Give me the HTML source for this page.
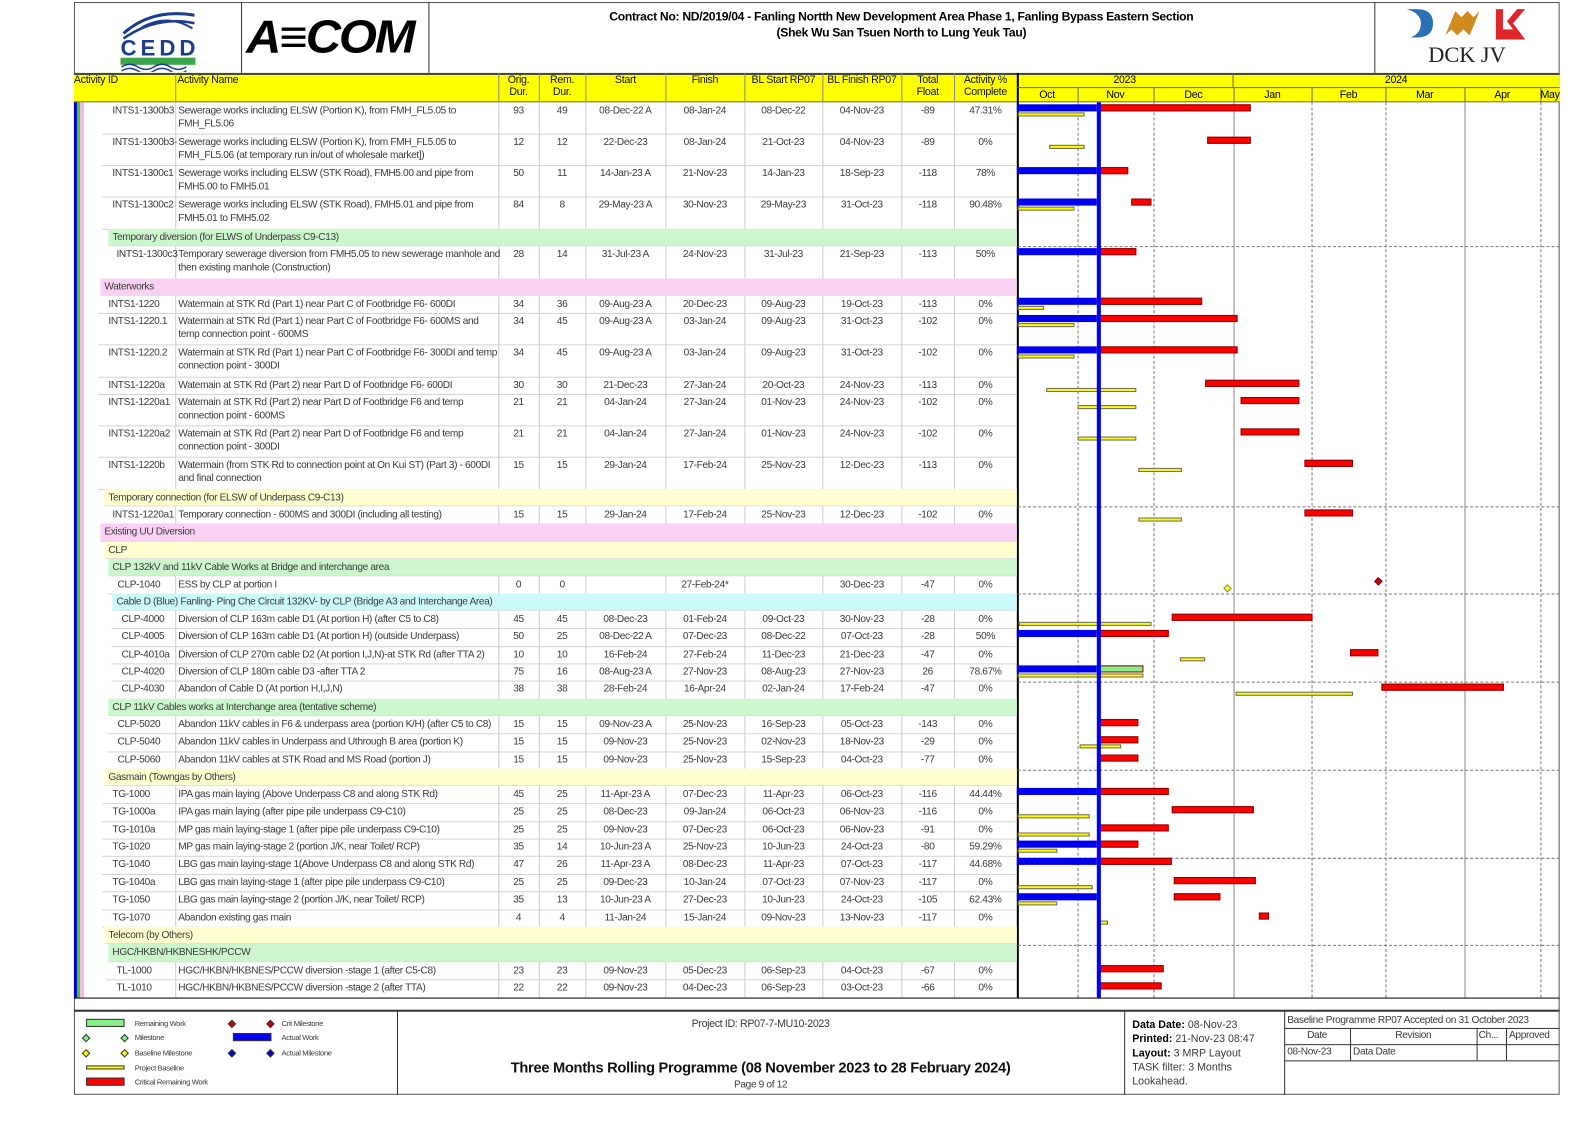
<!DOCTYPE html>
<html><head><meta charset="utf-8">
<style>
*{margin:0;padding:0;box-sizing:border-box}
html,body{width:1588px;height:1123px;overflow:hidden;background:#fff}
#w{position:absolute;left:0;top:0;width:1568px;height:1109px;transform:scale(1.01276);transform-origin:0 0;font-family:"Liberation Sans",Arial,sans-serif;color:#333}
.a{position:absolute}
.t{position:absolute;font-size:10px;line-height:12.5px;white-space:nowrap;letter-spacing:-0.35px;color:#3a3a3a}
.hd{position:absolute;font-size:10.5px;line-height:12px;font-weight:bold;color:#000;text-align:center;letter-spacing:-0.3px}
</style></head><body><div id="w"></div>
<script>
var W=document.getElementById('w');var H='';
function box(x,y,w,h,st){H+='<div class="a" style="left:'+x+'px;top:'+y+'px;width:'+w+'px;height:'+h+'px;'+(st||'')+'"></div>';}
function txt(x,y,s,st){H+='<div class="t" style="left:'+x+'px;top:'+y+'px;'+(st||'')+'">'+s+'</div>';}
var M={Jan:0,Feb:1,Mar:2,Apr:3,May:4,Jun:5,Jul:6,Aug:7,Sep:8,Oct:9,Nov:10,Dec:11};
function dx(s){var p=s.split('-');var d=Date.UTC(2000+ +p[2].slice(0,2),M[p[1]],+p[0]);var n=(d-Date.UTC(2023,10,1))/864e5;return 1063.7+n*2.52;}
var GL=1004,GR=1539.5,DD=1083;
box(73,2,1467,1079,'border:1px solid #555');
box(238,2,1,70,'background:#333');box(423,2,1,70,'background:#333');box(1357,2,1,70,'background:#333');
H+='<svg class="a" style="left:110px;top:3px" width="90" height="68"><path d="M12 30 Q40 5 82 12" stroke="#1d3c8c" stroke-width="3" fill="none"/><path d="M12 35 Q45 12 82 20" stroke="#1d3c8c" stroke-width="2.5" fill="none"/><path d="M30 24 Q55 10 80 25" stroke="#1d3c8c" stroke-width="2" fill="none"/><text x="9" y="52" font-family="Liberation Sans" font-size="22" fill="#1d3c8c" font-weight="bold" textLength="74">CEDD</text><rect x="9" y="54" width="74" height="7" fill="#3aa64a"/><path d="M10 63 q8 -5 16 0 t16 0 t16 0 t16 0" stroke="#1d3c8c" stroke-width="1.5" fill="none"/><path d="M10 67 q8 -5 16 0 t16 0 t16 0 t16 0" stroke="#1d3c8c" stroke-width="1.5" fill="none"/></svg>';
H+='<div class="a" style="left:243px;top:8px;width:180px;font:italic 900 46px/56px \'Liberation Sans\',sans-serif;color:#000;letter-spacing:-2px;transform:scaleX(1.05);transform-origin:0 0">A&#8801;COM</div>';
H+='<div class="hd" style="left:430px;top:8px;width:920px;font-size:12px;line-height:16px">Contract No: ND/2019/04 - Fanling Nortth New Development Area Phase 1, Fanling Bypass Eastern Section<br>(Shek Wu San Tsuen North to Lung Yeuk Tau)</div>';
H+='<svg class="a" style="left:1385px;top:5px" width="130" height="34"><path d="M4 4 h10 q16 0 16 14 q0 14 -16 14 h-6 q10 -4 10 -14 q0 -10 -14 -14z" fill="#2f6fb3"/><path d="M42 30 l10 -24 l6 6 l6 -6 l6 6 l6 -6 l-10 24 l-6 -6 l-6 6 l-6 -6z" fill="#d08a1e"/><path d="M92 4 h7 v20 h10 l-6 -8 l10 -12 h8 l-12 14 l12 16 h-29z" fill="#e0262b"/></svg>';
H+='<div class="a" style="left:1357px;top:41px;width:183px;text-align:center;font:22px/26px \'Liberation Serif\',serif;color:#222">DCK JV</div>';
box(73,72,1467,29,'background:#ffff00;border-top:2px solid #444;border-bottom:1px solid #666');
var cols=[73,173,492,532,578,657,735,812,890,942,1004];
for(var i=1;i<cols.length-1;i++)box(cols[i],72,1,29,'background:#888');
box(1004,72,1,913,'background:#000;width:2px');
var hdr=[['Activity ID',73,100,'left'],['Activity Name',175,300,'left'],['Orig.<br>Dur.',492,40],['Rem.<br>Dur.',532,46],['Start',578,79],['Finish',657,78],['BL Start RP07',735,77],['BL Finish RP07',812,78],['Total<br>Float',890,52],['Activity %<br>Complete',942,62]];
hdr.forEach(function(h){H+='<div class="hd" style="left:'+h[1]+'px;top:73px;width:'+h[2]+'px;font-weight:normal;font-size:10.5px;color:#111;'+(h[3]?'text-align:left;':'')+'">'+h[0]+'</div>';});
box(1004,86,536,1,'background:#666');
box(1217,72,1,14,'background:#666');
H+='<div class="hd" style="left:1004px;top:73px;width:213px;font-weight:normal">2023</div><div class="hd" style="left:1217px;top:73px;width:323px;font-weight:normal">2024</div>';
var mb=[1004,1063.7,1139,1217.6,1295,1368,1445.5,1521,1540];var mn=['Oct','Nov','Dec','Jan','Feb','Mar','Apr','May'];
for(var i=0;i<8;i++){if(i>0)box(mb[i],86,1,15,'background:#666');H+='<div class="hd" style="left:'+mb[i]+'px;top:88px;width:'+(mb[i+1]-mb[i])+'px;font-weight:normal;overflow:hidden">'+mn[i]+'</div>';}
[1063.7,1139,1295,1368,1521].forEach(function(x){box(x,101,0,884,'border-left:1px dashed #777');});
[1217.6,1445.5].forEach(function(x){box(x,101,1,884,'background:#888');});
[243,500,586,673,760,847,933].forEach(function(y){box(1005,y,535,0,'border-top:1px dashed #777');});
box(73,101,3,884,'background:#0000c0');box(76,101,3,884,'background:#33cc33');box(79,101,4,884,'background:#f5b8e8');
var R=[
['a',101,31,111,'INTS1-1300b3','Sewerage works including ELSW (Portion K), from FMH_FL5.05 to<br>FMH_FL5.06','93','49','08-Dec-22 A','08-Jan-24','08-Dec-22','04-Nov-23','-89','47.31%',1,0],
['a',132,31,111,'INTS1-1300b3-','Sewerage works including ELSW (Portion K), from FMH_FL5.05 to<br>FMH_FL5.06 (at temporary run in/out of wholesale market])','12','12','22-Dec-23','08-Jan-24','21-Oct-23','04-Nov-23','-89','0%',0,0],
['a',163,31,111,'INTS1-1300c1','Sewerage works including ELSW (STK Road), FMH5.00 and pipe from<br>FMH5.00 to FMH5.01','50','11','14-Jan-23 A','21-Nov-23','14-Jan-23','18-Sep-23','-118','78%',1,0],
['a',194,32,111,'INTS1-1300c2','Sewerage works including ELSW (STK Road), FMH5.01 and pipe from<br>FMH5.01 to FMH5.02','84','8','29-May-23 A','30-Nov-23','29-May-23','31-Oct-23','-118','90.48%',1,'22-Nov-23'],
['g',226,17,111,'Temporary diversion (for ELWS of Underpass C9-C13)','#ccf7cc'],
['a',243,32,115,'INTS1-1300c3','Temporary sewerage diversion from FMH5.05 to new sewerage manhole and<br>then existing manhole (Construction)','28','14','31-Jul-23 A','24-Nov-23','31-Jul-23','21-Sep-23','-113','50%',1,0],
['g',275,17,103,'Waterworks','#fbd0f5'],
['a',292,17,107,'INTS1-1220','Watermain at STK Rd (Part 1) near Part C of Footbridge F6- 600DI','34','36','09-Aug-23 A','20-Dec-23','09-Aug-23','19-Oct-23','-113','0%',1,0],
['a',309,31,107,'INTS1-1220.1','Watermain at STK Rd (Part 1) near Part C of Footbridge F6- 600MS and<br>temp connection point - 600MS','34','45','09-Aug-23 A','03-Jan-24','09-Aug-23','31-Oct-23','-102','0%',1,0],
['a',340,32,107,'INTS1-1220.2','Watermain at STK Rd (Part 1) near Part C of Footbridge F6- 300DI and temp<br>connection point - 300DI','34','45','09-Aug-23 A','03-Jan-24','09-Aug-23','31-Oct-23','-102','0%',1,0],
['a',372,17,107,'INTS1-1220a','Watemain at STK Rd (Part 2) near Part D of Footbridge F6- 600DI','30','30','21-Dec-23','27-Jan-24','20-Oct-23','24-Nov-23','-113','0%',0,0],
['a',389,31,107,'INTS1-1220a1','Watemain at STK Rd (Part 2) near Part D of Footbridge F6 and temp<br>connection point - 600MS','21','21','04-Jan-24','27-Jan-24','01-Nov-23','24-Nov-23','-102','0%',0,0],
['a',420,31,107,'INTS1-1220a2','Watemain at STK Rd (Part 2) near Part D of Footbridge F6 and temp<br>connection point - 300DI','21','21','04-Jan-24','27-Jan-24','01-Nov-23','24-Nov-23','-102','0%',0,0],
['a',451,32,107,'INTS1-1220b','Watermain (from STK Rd to connection point at On Kui ST) (Part 3) - 600DI<br>and final connection','15','15','29-Jan-24','17-Feb-24','25-Nov-23','12-Dec-23','-113','0%',0,0],
['g',483,17,107,'Temporary connection (for ELSW of Underpass C9-C13)','#ffffd0'],
['a',500,17,111,'INTS1-1220a1','Temporary connection - 600MS and 300DI (including all testing)','15','15','29-Jan-24','17-Feb-24','25-Nov-23','12-Dec-23','-102','0%',0,0],
['g',517,18,103,'Existing UU Diversion','#fbd0f5'],
['g',535,17,107,'CLP','#ffffd0'],
['g',552,17,111,'CLP 132kV and 11kV Cable Works at Bridge and interchange area','#ccf7cc'],
['m',569,17,116,'CLP-1040','ESS by CLP at portion I','0','0','','27-Feb-24*','','30-Dec-23','-47','0%'],
['g',586,17,115,'Cable D (Blue) Fanling- Ping Che Circuit 132KV- by CLP (Bridge A3 and Interchange Area)','#ccfafa'],
['a',603,17,120,'CLP-4000','Diversion of CLP 163m cable D1 (At portion H) (after C5 to C8)','45','45','08-Dec-23','01-Feb-24','09-Oct-23','30-Nov-23','-28','0%',0,0],
['a',620,18,120,'CLP-4005','Diversion of CLP 163m cable D1 (At portion H) (outside Underpass)','50','25','08-Dec-22 A','07-Dec-23','08-Dec-22','07-Oct-23','-28','50%',1,0],
['a',638,17,120,'CLP-4010a','Diversion of CLP 270m cable D2 (At portion I,J,N)-at STK Rd (after TTA 2)','10','10','16-Feb-24','27-Feb-24','11-Dec-23','21-Dec-23','-47','0%',0,0],
['a',655,17,120,'CLP-4020','Diversion of CLP 180m cable D3 -after TTA 2','75','16','08-Aug-23 A','27-Nov-23','08-Aug-23','27-Nov-23','26','78.67%',1,0,'g'],
['a',672,18,120,'CLP-4030','Abandon of Cable D (At portion H,I,J,N)','38','38','28-Feb-24','16-Apr-24','02-Jan-24','17-Feb-24','-47','0%',0,0],
['g',690,17,111,'CLP 11kV Cables works at Interchange area (tentative scheme)','#ccf7cc'],
['a',707,17,116,'CLP-5020','Abandon 11kV cables in F6 &amp; underpass area (portion K/H) (after C5 to C8)','15','15','09-Nov-23 A','25-Nov-23','16-Sep-23','05-Oct-23','-143','0%',0,0],
['a',724,18,116,'CLP-5040','Abandon 11kV cables in Underpass and Uthrough B area (portion K)','15','15','09-Nov-23','25-Nov-23','02-Nov-23','18-Nov-23','-29','0%',0,0],
['a',742,17,116,'CLP-5060','Abandon 11kV cables at STK Road and MS Road (portion J)','15','15','09-Nov-23','25-Nov-23','15-Sep-23','04-Oct-23','-77','0%',0,0],
['g',759,17,107,'Gasmain (Towngas by Others)','#ffffd0'],
['a',776,17,111,'TG-1000','IPA gas main laying (Above Underpass C8 and along STK Rd)','45','25','11-Apr-23 A','07-Dec-23','11-Apr-23','06-Oct-23','-116','44.44%',1,0],
['a',793,18,111,'TG-1000a','IPA gas main laying (after pipe pile underpass C9-C10)','25','25','08-Dec-23','09-Jan-24','06-Oct-23','06-Nov-23','-116','0%',0,0],
['a',811,17,111,'TG-1010a','MP gas main laying-stage 1 (after pipe pile underpass C9-C10)','25','25','09-Nov-23','07-Dec-23','06-Oct-23','06-Nov-23','-91','0%',0,0],
['a',828,17,111,'TG-1020','MP gas main laying-stage 2 (portion J/K, near Toilet/ RCP)','35','14','10-Jun-23 A','25-Nov-23','10-Jun-23','24-Oct-23','-80','59.29%',1,0],
['a',845,18,111,'TG-1040','LBG gas main laying-stage 1(Above Underpass C8 and along STK Rd)','47','26','11-Apr-23 A','08-Dec-23','11-Apr-23','07-Oct-23','-117','44.68%',1,0],
['a',863,17,111,'TG-1040a','LBG gas main laying-stage 1 (after pipe pile underpass C9-C10)','25','25','09-Dec-23','10-Jan-24','07-Oct-23','07-Nov-23','-117','0%',0,0],
['a',880,18,111,'TG-1050','LBG gas main laying-stage 2 (portion J/K, near Toilet/ RCP)','35','13','10-Jun-23 A','27-Dec-23','10-Jun-23','24-Oct-23','-105','62.43%',1,'09-Dec-23'],
['a',898,17,111,'TG-1070','Abandon existing gas main','4','4','11-Jan-24','15-Jan-24','09-Nov-23','13-Nov-23','-117','0%',0,0],
['g',915,17,107,'Telecom (by Others)','#ffffd0'],
['g',932,18,111,'HGC/HKBN/HKBNESHK/PCCW','#ccf7cc'],
['a',950,17,115,'TL-1000','HGC/HKBN/HKBNES/PCCW diversion -stage 1 (after C5-C8)','23','23','09-Nov-23','05-Dec-23','06-Sep-23','04-Oct-23','-67','0%',0,0],
['a',967,18,115,'TL-1010','HGC/HKBN/HKBNES/PCCW diversion -stage 2 (after TTA)','22','22','09-Nov-23','04-Dec-23','06-Sep-23','03-Oct-23','-66','0%',0,0]
];
var cx=[[492,40],[532,46],[578,79],[657,78],[735,77],[812,78],[890,52],[942,62]];
R.forEach(function(r){
 var t=r[1],h=r[2];
 if(r[0]=='g'){box(r[3]-4,t,1004-r[3]+4,h,'background:'+r[5]+';border-bottom:1px solid #ddd');txt(r[3],t+3,r[4]);return;}
 box(r[3]-10,t+h,1004-r[3]+10,1,'background:#d4d4d4');
 box(173,t,1,h,'background:#ccc');for(var i=0;i<8;i++)box(cx[i][0],t,1,h,'background:#ccc');
 txt(r[3],t+3,r[4]);txt(176,t+3,r[5]);
 for(var i=0;i<8;i++)txt(cx[i][0],t+3,r[6+i],'width:'+cx[i][1]+'px;text-align:center');
 if(r[0]=='m'){
  H+='<div class="a" style="left:'+(dx('30-Dec-23')-3)+'px;top:'+(t+9)+'px;width:6px;height:6px;background:#ff0;border:1px solid #886;transform:rotate(45deg)"></div>';
  H+='<div class="a" style="left:'+(dx('27-Feb-24')-3)+'px;top:'+(t+2)+'px;width:6px;height:6px;background:#d00;border:1px solid #600;transform:rotate(45deg)"></div>';return;}
 var blue=r[14];
 if(blue)box(GL,t+2,DD-GL,7,'background:#0000ee');
 var fx=dx(r[9].replace(' A',''));
 var sx=r[15]?dx(r[15]):(blue?DD+2:Math.max(dx(r[8].replace(' A','')),DD+2));
 var col=r[16]=='g'?'#88ee88':'#ff0000';
 var ry=blue?t+2:t+3;
 if(fx>sx)box(sx,ry,fx-sx,7,'background:'+col+';border:1px solid #800');
 var b1=Math.max(dx(r[10]),GL+1),b2=dx(r[11]);
 if(b2>b1+1)box(b1,blue?t+10:t+11,b2-b1,4,'background:#ff0;border:1px solid #666');
});
box(1083,101,4,884,'background:#0000ee');
box(73,985,1467,1,'background:#000');
box(73,997,1467,2,'background:#333');box(392,997,1,84,'background:#333');box(1110,997,1,84,'background:#333');box(1268,997,1,84,'background:#333');
box(1268,1015,272,1,'background:#333');box(1268,1031,272,1,'background:#333');box(1268,1047,272,1,'background:#333');
box(1333,1015,1,32,'background:#333');box(1458,1015,1,32,'background:#333');box(1487,1015,1,32,'background:#333');
function lg(x,y,s){H+='<div class="t" style="left:'+x+'px;top:'+y+'px;font-size:7.5px;line-height:9px">'+s+'</div>';}
box(85,1006,38,8,'background:#88ee88;border:1px solid #333');lg(133,1006,'Remaining Work');
box(85,1064,38,8,'background:#f00;border:1px solid #333');lg(133,1064,'Critical Remaining Work');
box(85,1052,38,4,'background:#ff0;border:1px solid #333');lg(133,1050,'Project Baseline');
box(230,1020,38,8,'background:#0000ee;border:1px solid #333');lg(278,1020,'Actual Work');
function dm(x,y,c){H+='<div class="a" style="left:'+x+'px;top:'+y+'px;width:6px;height:6px;background:'+c+';border:1px solid #333;transform:rotate(45deg)"></div>';}
dm(82,1022,'#88ee88');dm(120,1022,'#88ee88');lg(133,1020,'Milestone');
dm(82,1037,'#ff0');dm(120,1037,'#ff0');lg(133,1035,'Baseline Milestone');
dm(226,1008,'#c00');dm(264,1008,'#c00');lg(278,1006,'Crit Milestone');
dm(226,1037,'#00c');dm(264,1037,'#00c');lg(278,1035,'Actual Milestone');
txt(392,1005,'Project ID: RP07-7-MU10-2023','width:718px;text-align:center;font-size:10.5px');
H+='<div class="hd" style="left:392px;top:1046px;width:718px;font-size:14.5px;line-height:18px;color:#111;font-weight:bold">Three Months Rolling Programme (08 November 2023 to 28 February 2024)</div>';
txt(392,1066,'Page 9 of 12','width:718px;text-align:center');
txt(1118,1005,'<b style="color:#000">Data Date:</b> 08-Nov-23<br><b style="color:#000">Printed:</b> 21-Nov-23 08:47<br><b style="color:#000">Layout:</b> 3 MRP Layout<br>TASK filter: 3 Months<br>Lookahead.','font-size:10.5px;line-height:14px;letter-spacing:0');
txt(1271,1002,'Baseline Programme RP07 Accepted on 31 October 2023','font-size:10px');
txt(1268,1017,'Date','width:65px;text-align:center');txt(1333,1017,'Revision','width:125px;text-align:center');txt(1460,1017,'Ch...');txt(1490,1017,'Approved');
txt(1271,1033,'08-Nov-23');txt(1336,1033,'Data Date');
W.innerHTML=H;
</script></body></html>
